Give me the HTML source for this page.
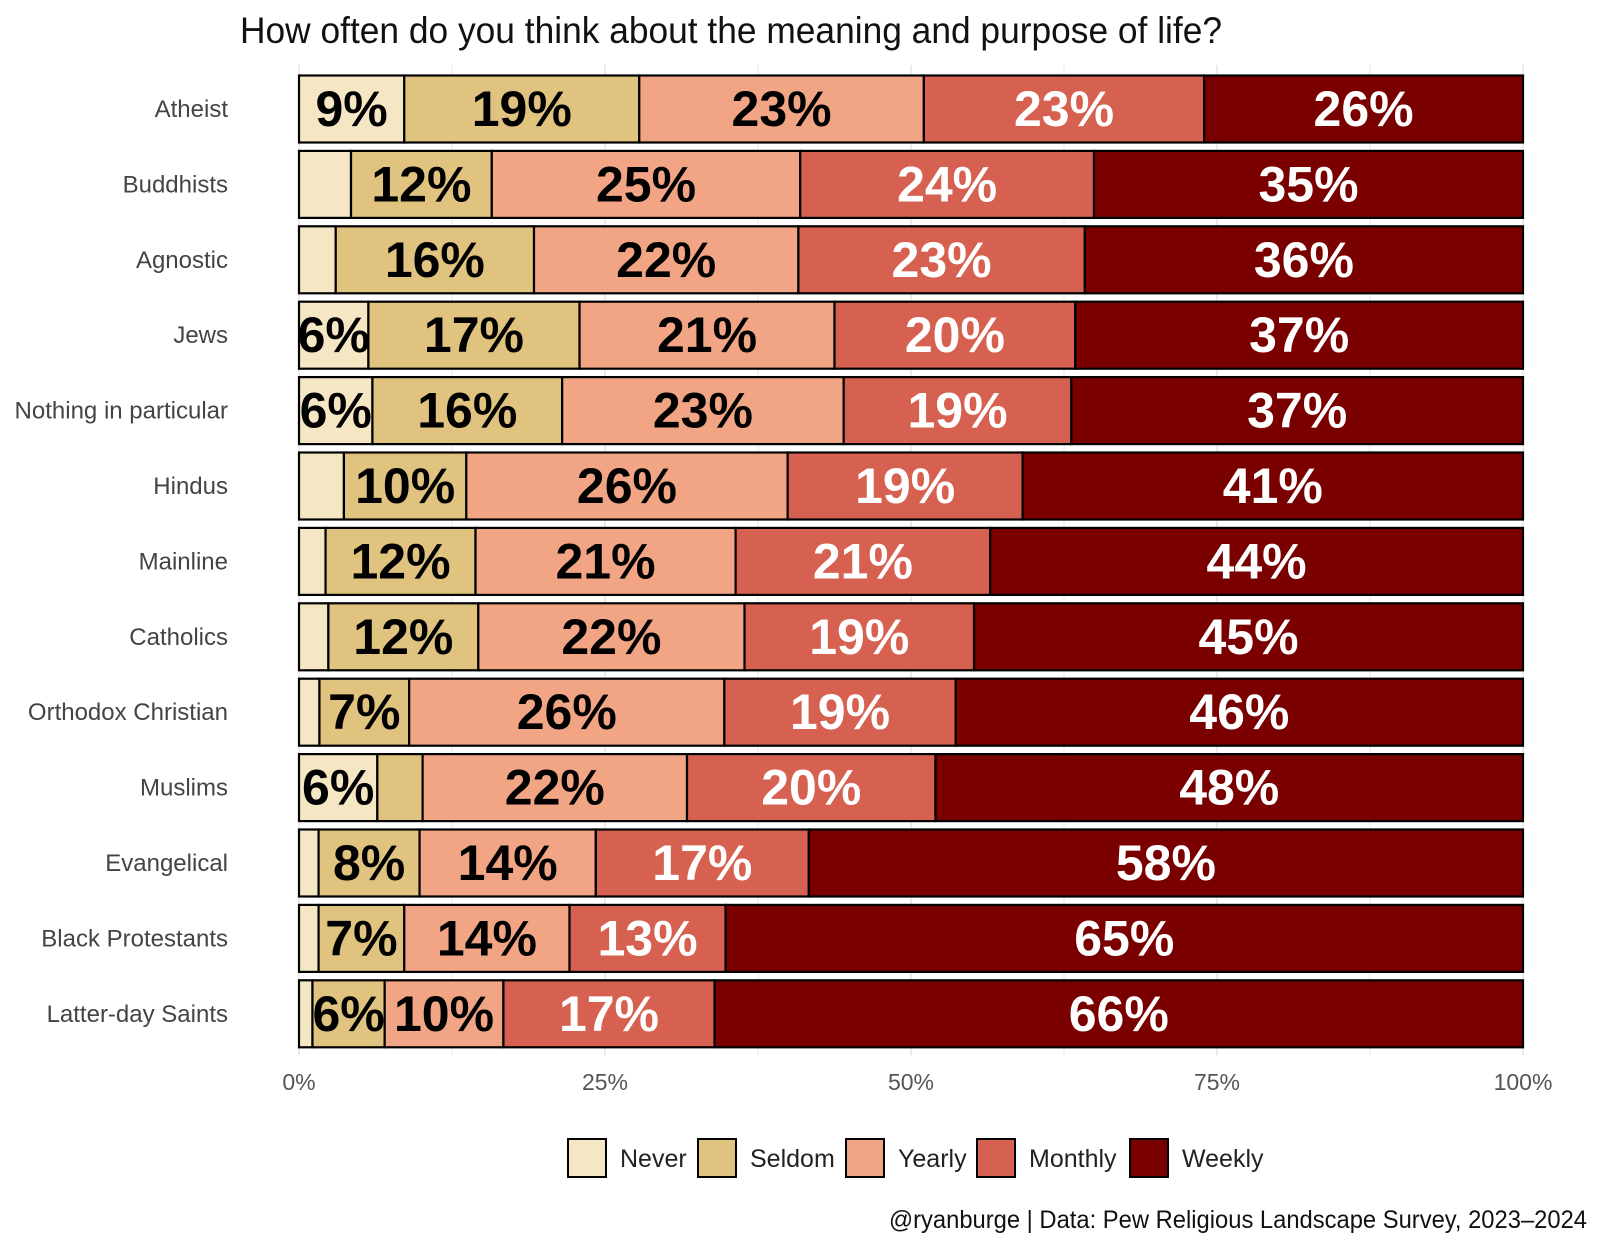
<!DOCTYPE html>
<html><head><meta charset="utf-8"><style>
html,body{margin:0;padding:0;background:#fff;}
svg{display:block;font-family:"Liberation Sans Narrow","Liberation Sans",sans-serif;}
</style></head><body>
<svg id="chart" width="1600" height="1245" viewBox="0 0 1600 1245" xmlns="http://www.w3.org/2000/svg">
<rect width="1600" height="1245" fill="#fff"/>
<text x="240" y="43" font-size="37" fill="#111" textLength="982" lengthAdjust="spacingAndGlyphs">How often do you think about the meaning and purpose of life?</text>
<g id="grid"></g><g id="bars"></g><g id="ylabels"></g><g id="xticks"></g>
<g id="legend"></g>
<text x="1587" y="1228" font-size="25" fill="#111" text-anchor="end" textLength="698" lengthAdjust="spacingAndGlyphs">@ryanburge | Data: Pew Religious Landscape Survey, 2023–2024</text>
</svg>
<script>
const categories = ["Atheist","Buddhists","Agnostic","Jews","Nothing in particular","Hindus","Mainline","Catholics","Orthodox Christian","Muslims","Evangelical","Black Protestants","Latter-day Saints"];
const seriesNames = ["Never","Seldom","Yearly","Monthly","Weekly"];
const never   = [8.6, 4.25, 3.0, 5.67, 6.0, 3.67, 2.17, 2.4, 1.67, 6.4, 1.6, 1.6, 1.1];
const seldom  = [19.2, 11.5, 16.2, 17.25, 15.5, 10.0, 12.25, 12.25, 7.33, 3.7, 8.25, 7.0, 5.9];
const yearly  = [23.25, 25.2, 21.6, 20.83, 23.0, 26.25, 21.25, 21.75, 25.75, 21.6, 14.4, 13.5, 9.7];
const monthly = [22.9, 24.0, 23.4, 19.67, 18.6, 19.2, 20.8, 18.75, 18.9, 20.3, 17.4, 12.75, 17.25];
const weekly  = [26.05, 35.05, 35.8, 36.58, 36.9, 40.88, 43.53, 44.85, 46.35, 48.0, 58.35, 65.15, 66.05];
const xTicks = [0,25,50,75,100];
const xTickLabels = ["0%","25%","50%","75%","100%"];
const colors = ["#f5e6c4","#dfc37f","#f2a584","#d66150","#7a0000"];
const textColors = ["#000","#000","#000","#fff","#fff"];
const series = [never,seldom,yearly,monthly,weekly];
const NS="http://www.w3.org/2000/svg";
const x0=299, xW=1224, y0=109, step=75.4, bh=67;
const xs=v=>x0+v/100*xW;
const yc=i=>y0+i*step;
function mk(tag,attrs,parent){const e=document.createElementNS(NS,tag);for(const k in attrs)e.setAttribute(k,attrs[k]);parent.appendChild(e);return e;}
const grid=document.getElementById('grid');
for(let t=0;t<=100;t+=12.5){
  const g=mk('line',{x1:xs(t),x2:xs(t),y1:65,y2:1055,stroke:'#ebebeb','stroke-width':t%25===0?2:1.2},grid);
  
  
}
const bars=document.getElementById('bars');
categories.forEach((c,i)=>{
  let cum=0;
  series.forEach((s,j)=>{
    const v=s[i];
    const r=mk('rect',{x:xs(cum),y:yc(i)-bh/2,width:xs(cum+v)-xs(cum),height:bh,fill:colors[j],stroke:'#000','stroke-width':2.2},bars);
    
    
    if(v>=5){
      const t=mk('text',{x:(xs(cum)+xs(cum+v))/2,y:yc(i)+17,'text-anchor':'middle','font-size':50,'font-weight':'bold',fill:textColors[j]},bars);
      t.textContent=Math.round(v)+'%';
      
      
    }
    cum+=v;
  });
  const l=mk('text',{x:228,y:yc(i)+8,'text-anchor':'end','font-size':24,fill:'#444'},document.getElementById('ylabels'));
  l.textContent=c;
  
  
});
const xt=document.getElementById('xticks');
xTicks.forEach((t,k)=>{
  const e=mk('text',{x:xs(t),y:1090,'text-anchor':'middle','font-size':23,fill:'#555'},xt);
  e.textContent=xTickLabels[k];
  
  
});
const legX=[568,698,846,977,1130];
const lg=document.getElementById('legend');
seriesNames.forEach((n,j)=>{
  const r=mk('rect',{x:legX[j],y:1139,width:38,height:38,fill:colors[j],stroke:'#000','stroke-width':2},lg);
  
  
  const t=mk('text',{x:legX[j]+52,y:1167,'font-size':25,fill:'#222'},lg);
  t.textContent=n;
  
  
});
</script>
</body></html>
